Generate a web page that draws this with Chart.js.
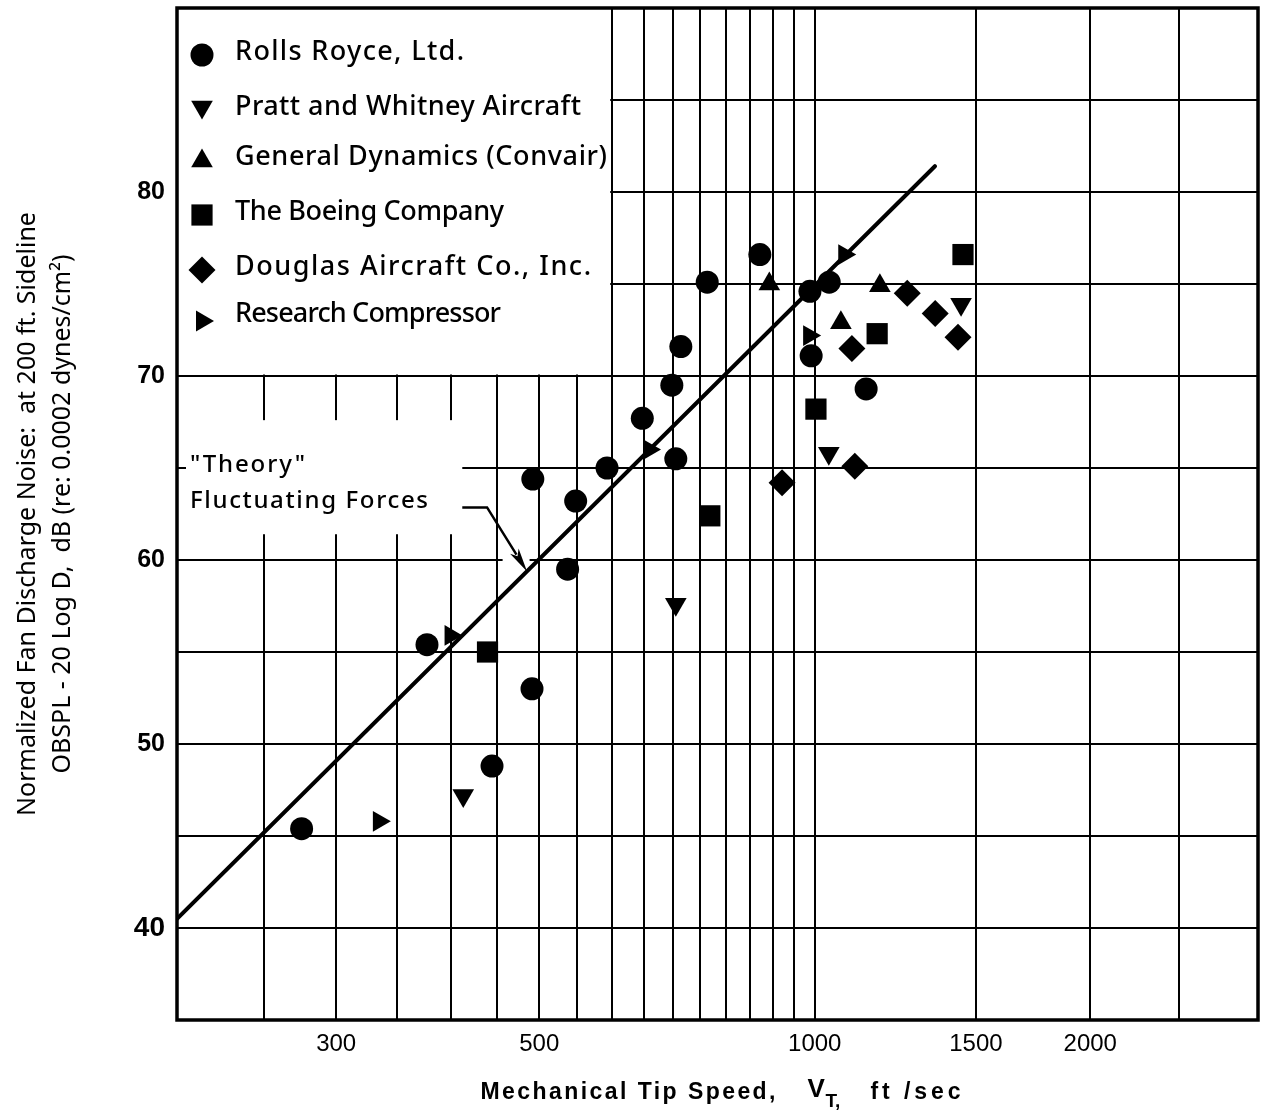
<!DOCTYPE html>
<html><head><meta charset="utf-8">
<script src="https://cdn.jsdelivr.net/npm/chart.js@4.4.1/dist/chart.umd.min.js"></script>
<style>html,body{margin:0;padding:0;background:#fff;}canvas{display:block;}</style>
</head><body>
<canvas id="c" width="1266" height="1118"></canvas>
<script>
// ---- data ----
const seriesNames = ["Rolls Royce, Ltd.", "Pratt and Whitney Aircraft", "General Dynamics (Convair)", "The Boeing Company", "Douglas Aircraft Co., Inc.", "Research Compressor"];
const rollsRoyce = [[275,45.4],[377,55.4],[444,48.8],[491,53.0],[492,64.4],[537,59.5],[548,63.2],[593,65.0],[648,67.7],[698,69.5],[705,65.5],[714,71.6],[763,75.1],[871,76.6],[988,74.6],[991,71.1],[1037,75.1],[1138,69.3]];
const prattWhitney = [[413,47.2],[705,57.6],[1036,65.8],[1445,73.9]];
const generalDynamics = [[892,75.0],[1178,74.9],[1068,72.9]];
const boeing = [[439,55.0],[768,62.4],[1003,68.2],[1170,72.3],[1452,76.6]];
const douglas = [[921,64.2],[1106,65.1],[1098,71.5],[1262,74.5],[1354,73.4],[1434,72.1]];
const researchCompressor = [[334,45.8],[400,55.9],[659,66.0],[986,72.2],[1077,76.6]];
const theoryLine = [[201,40.5],[1353,81.4]];
const theoryLabel = ['"Theory"', 'Fluctuating Forces'];
const xGridValues = [250,300,350,400,450,500,550,600,650,700,750,800,850,900,950,1000,1500,2000,2500];
const xTickLabels = [300,500,1000,1500,2000];
const yTickLabels = [40,50,60,70,80];
const X_MIN = 201, X_MAX = 3050, Y_MIN = 35, Y_MAX = 90;
const yTitle = ["Normalized Fan Discharge Noise:  at 200 ft. Sideline", "OBSPL - 20 Log D,  dB (re: 0.0002 dynes/cm\u00B2)"];

const pts = a => a.map(([x, y]) => ({x, y}));
const SANS = '"Noto Sans", "DejaVu Sans", sans-serif';
const HELV = '"Liberation Sans", Arial, sans-serif';

function fitText(ctx, text, x, y, targetW) {
  ctx.letterSpacing = '0px';
  const w = ctx.measureText(text).width;
  let ls = (targetW - w) / Math.max(1, text.length - 1);
  ls = Math.max(-2, Math.min(6, ls));
  ctx.letterSpacing = ls + 'px';
  ctx.fillText(text, x, y);
  ctx.letterSpacing = '0px';
}

const mk = (label, data, style, rot, r) => ({
  label, data: pts(data), pointStyle: style, pointRotation: rot, pointRadius: r,
  pointHoverRadius: r, pointBackgroundColor: '#000', pointBorderColor: '#000', pointBorderWidth: 0,
  backgroundColor: '#000', borderColor: '#000', showLine: false
});

const datasets = [
  mk(seriesNames[0], rollsRoyce, 'circle', 0, 11.5),
  mk(seriesNames[1], prattWhitney, 'triangle', 180, 12.5),
  mk(seriesNames[2], generalDynamics, 'triangle', 0, 12.5),
  mk(seriesNames[3], boeing, 'rect', 0, 15),
  mk(seriesNames[4], douglas, 'rectRot', 0, 13.5),
  mk(seriesNames[5], researchCompressor, 'triangle', 90, 12),
  { label: 'Theory', data: pts(theoryLine), showLine: true, borderColor: '#000', borderWidth: 4,
    borderCapStyle: 'round', pointRadius: 0, pointHoverRadius: 0, fill: false, isTheory: true }
];

const annot = {
  id: 'annot',
  beforeDatasetsDraw(chart) {
    const {ctx, chartArea: a, scales: {x, y}} = chart;
    ctx.save();
    ctx.fillStyle = '#fff';
    // legend panel (covers grid)
    const lx2 = x.getPixelForValue(600) - 1.5, ly2 = y.getPixelForValue(70) - 1.5;
    ctx.fillRect(a.left + 1, a.top + 1, lx2 - a.left - 1, ly2 - a.top - 1);
    // theory label background
    const tx2 = x.getPixelForValue(412), ty1 = y.getPixelForValue(67.6), ty2 = y.getPixelForValue(61.4);
    ctx.fillRect(a.left + 9, ty1, tx2 - a.left - 9, ty2 - ty1);
    // gap near arrow
    const gx1 = x.getPixelForValue(456), gx2 = x.getPixelForValue(488);
    ctx.fillRect(gx1, y.getPixelForValue(60) - 2, gx2 - gx1, 4);
    // frame
    ctx.strokeStyle = '#000'; ctx.lineWidth = 3.5;
    ctx.strokeRect(a.left, a.top, a.right - a.left, a.bottom - a.top);
    // legend
    const rowBase = [52, 107, 157, 212, 267, 314];
    const markY = [47, 99, 153, 207, 262, 313];
    const widths = [229, 346, 372, 269, 356, 266];
    ctx.fillStyle = '#000';
    ctx.font = '500 27px ' + SANS;
    ctx.textBaseline = 'alphabetic'; ctx.textAlign = 'left';
    chart.data.datasets.filter(d => !d.isTheory).forEach((d, i) => {
      ctx.fillStyle = '#000';
      Chart.helpers.drawPoint(ctx, {pointStyle: d.pointStyle, rotation: d.pointRotation, radius: d.pointRadius, borderWidth: 0},
        a.left + 25, a.top + markY[i]);
      fitText(ctx, d.label, a.left + 58, a.top + rowBase[i], widths[i]);
    });
    // theory label text
    ctx.font = '500 24px ' + SANS; ctx.textBaseline = 'middle';
    fitText(ctx, theoryLabel[0], a.left + 13, y.getPixelForValue(65.14), 115);
    fitText(ctx, theoryLabel[1], a.left + 13, y.getPixelForValue(63.18), 238);
    ctx.restore();
  },
  afterDatasetsDraw(chart) {
    const {ctx, scales: {x, y}} = chart;
    ctx.save();
    const p0 = [x.getPixelForValue(412), y.getPixelForValue(62.86)];
    const p1 = [x.getPixelForValue(438.5), y.getPixelForValue(62.86)];
    const tip = [x.getPixelForValue(484.9), y.getPixelForValue(59.37)];
    const dx = tip[0] - p1[0], dy = tip[1] - p1[1], L = Math.hypot(dx, dy), ux = dx / L, uy = dy / L;
    const hl = 24, hw = 5;
    const base = [tip[0] - ux * hl, tip[1] - uy * hl];
    ctx.strokeStyle = '#000'; ctx.lineWidth = 2.5; ctx.lineJoin = 'miter';
    ctx.beginPath(); ctx.moveTo(p0[0], p0[1]); ctx.lineTo(p1[0], p1[1]); ctx.lineTo(base[0] + ux * 4, base[1] + uy * 4); ctx.stroke();
    ctx.fillStyle = '#000';
    ctx.beginPath();
    ctx.moveTo(tip[0], tip[1]);
    ctx.lineTo(base[0] - uy * hw, base[1] + ux * hw);
    ctx.lineTo(base[0] + ux * 6, base[1] + uy * 6);
    ctx.lineTo(base[0] + uy * hw, base[1] - ux * hw);
    ctx.closePath(); ctx.fill();
    ctx.restore();
  },
  afterDraw(chart) {
    const {ctx, chartArea: a} = chart;
    ctx.save();
    const cx = (a.left + a.right) / 2, ty = a.bottom + 73;
    ctx.fillStyle = '#000'; ctx.textAlign = 'left'; ctx.textBaseline = 'middle';
    ctx.font = 'bold 23px ' + HELV;
    fitText(ctx, 'Mechanical Tip Speed,', cx - 237, ty, 295);
    ctx.font = 'bold 26px ' + HELV;
    ctx.fillText('V', cx + 90, ty - 3);
    ctx.font = 'bold 19px ' + HELV;
    ctx.fillText('T,', cx + 108, ty + 9);
    ctx.font = 'bold 23px ' + HELV;
    fitText(ctx, 'ft /sec', cx + 153, ty, 90);
    ctx.restore();
  }
};

new Chart(document.getElementById('c'), {
  type: 'scatter',
  data: { datasets },
  options: {
    responsive: false, animation: false, devicePixelRatio: 1,
    layout: { autoPadding: false, padding: { top: 8, right: 8, left: 0, bottom: 0 } },
    plugins: { legend: { display: false }, tooltip: { enabled: false } },
    events: [],
    scales: {
      x: {
        type: 'logarithmic', min: X_MIN, max: X_MAX, bounds: 'data',
        afterBuildTicks: s => { s.ticks = xGridValues.map(v => ({ value: v })); },
        afterFit: s => { s.height = 98; s.paddingLeft = 0; s.paddingRight = 0; },
        ticks: { autoSkip: false, maxRotation: 0, minRotation: 0, padding: 10, color: '#000',
          font: { family: HELV, size: 24 },
          callback: v => xTickLabels.includes(v) ? String(v) : '' },
        grid: { color: '#000', lineWidth: 2, drawTicks: false },
        border: { display: false }
      },
      y: {
        type: 'linear', min: Y_MIN, max: Y_MAX,
        afterFit: s => { s.width = 177; s.paddingTop = 0; s.paddingBottom = 0; },
        ticks: { stepSize: 5, autoSkip: false, padding: 12, color: '#000',
          font: c => ({ family: HELV, size: (c.tick && c.tick.value === 40) ? 28 : 25, weight: 'bold' }),
          callback: v => yTickLabels.includes(v) ? String(v) : '' },
        grid: { color: '#000', lineWidth: 2, drawTicks: false },
        border: { display: false },
        title: { display: true, text: yTitle, color: '#000',
          font: { family: SANS, size: 25, lineHeight: 1.4 }, padding: { top: 10, bottom: 0 } }
      }
    }
  },
  plugins: [annot]
});
</script>
</body></html>
